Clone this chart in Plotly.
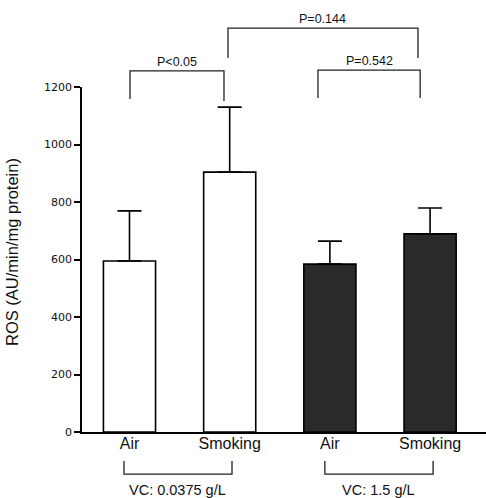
import plotly.graph_objects as go

# ---------------- data ----------------
categories = ["Air", "Smoking", "Air", "Smoking"]
means = [595, 904, 584, 689]
errors = [174, 226, 80, 90]
y_ticks = [0, 200, 400, 600, 800, 1000, 1200]
y_title = "ROS (AU/min/mg protein)"
p_labels = ["P<0.05", "P=0.144", "P=0.542"]
group_labels = ["VC: 0.0375 g/L", "VC: 1.5 g/L"]

# ---------------- styling / layout ----------------
bar_fill = ["white", "white", "#2a2a2a", "#2a2a2a"]
YMAX = 1200
xpos = list(range(len(categories)))

# comparison brackets: x_left, x_right, left-leg bottom, right-leg bottom, top (data units)
brackets = [
    (0.005, 0.943, 1158, 1151, 1256),
    (0.983, 2.879, 1301, 1301, 1405),
    (1.881, 2.901, 1162, 1162, 1259),
]
# group brackets below axis: x_left, x_right (paper y set below)
group_br = [(-0.055, 1.023), (1.95, 3.03)]
g_top, g_bot, g_text = -0.084, -0.122, -0.168

fig = go.Figure()
fig.add_trace(go.Bar(
    x=xpos, y=means, width=0.52,
    marker=dict(color=bar_fill, line=dict(color="black", width=1.6)),
    error_y=dict(type="data", array=errors, arrayminus=[0] * len(errors),
                 symmetric=False, color="black", thickness=1.6, width=12),
    showlegend=False,
))

line_style = dict(color="#222", width=1.3)
shapes = []
annotations = []
for (xl, xr, yl, yr, yt), lab in zip(brackets, p_labels):
    path = (f"M {xl},{yl / YMAX} L {xl},{yt / YMAX} L {xr},{yt / YMAX} L {xr},{yr / YMAX}")
    shapes.append(dict(type="path", path=path, xref="x", yref="paper", line=line_style))
    annotations.append(dict(x=(xl + xr) / 2, y=yt / YMAX, xref="x", yref="paper",
                            text=lab, showarrow=False, yanchor="bottom", yshift=0,
                            font=dict(family="Liberation Sans, Arial", size=12.5, color="#111")))

for (xl, xr), lab in zip(group_br, group_labels):
    path = f"M {xl},{g_top} L {xl},{g_bot} L {xr},{g_bot} L {xr},{g_top}"
    shapes.append(dict(type="path", path=path, xref="x", yref="paper", line=line_style))
    annotations.append(dict(x=(xl + xr) / 2, y=g_text, xref="x", yref="paper",
                            text=lab, showarrow=False, yanchor="middle",
                            font=dict(family="Liberation Sans, Arial", size=14.5, color="#111")))

annotations.append(dict(x=-0.173, y=0.522, xref="paper", yref="paper", text=y_title,
                        textangle=-90, showarrow=False, xanchor="center", yanchor="middle",
                        font=dict(family="Liberation Sans, Arial", size=16.5, color="#111")))

fig.update_layout(
    width=486, height=498,
    margin=dict(l=82, r=0, t=87, b=66),
    paper_bgcolor="white", plot_bgcolor="white",
    shapes=shapes, annotations=annotations,
    xaxis=dict(range=[-0.474, 3.558], tickvals=xpos, ticktext=categories,
               showline=True, linecolor="black", linewidth=1.6, ticks="",
               showgrid=False, zeroline=False,
               tickfont=dict(family="Liberation Sans, Arial", size=16, color="#111")),
    yaxis=dict(range=[0, YMAX], tickvals=y_ticks, showline=True, linecolor="black",
               linewidth=1.6, ticks="outside", ticklen=6, tickwidth=1.5, tickcolor="black",
               showgrid=False, zeroline=False,
               tickfont=dict(family="DejaVu Sans", size=11, color="#111")),
)
try:
    fig.update_xaxes(ticklabelstandoff=-4)
except Exception:
    pass

fig.write_html(
    "out.html",
    config={"displayModeBar": False},
    post_script="document.body.style.margin='0';document.body.style.padding='0';"
                "document.body.style.overflow='hidden';",
)
